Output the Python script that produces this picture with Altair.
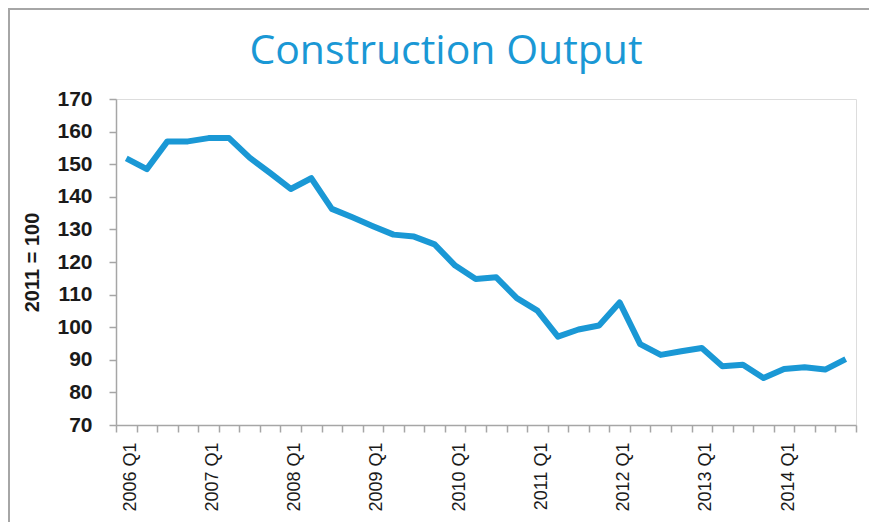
import altair as alt
import pandas as pd

quarters = [f"{y} Q{q}" for y in range(2006, 2015) for q in range(1, 5)]
values = [151.8, 148.5, 157.0, 157.0, 158.0, 158.0, 152.0, 147.3, 142.4, 145.7,
          136.3, 133.7, 131.0, 128.4, 127.8, 125.4, 118.9, 114.8, 115.3, 108.9,
          105.1, 97.1, 99.3, 100.5, 107.6, 94.8, 91.5, 92.6, 93.6, 88.0,
          88.5, 84.4, 87.2, 87.7, 87.0, 90.2]
y_ticks = [70, 80, 90, 100, 110, 120, 130, 140, 150, 160, 170]
title_text = ["Construction Output"]

df = pd.DataFrame({"quarter": quarters, "value": values})

W, H = 740, 326
PL, PT, PR, PB = 108, 91, 13, 97
BLUE = "#1a98d5"
GREY = "#a6a6a6"

line = alt.Chart(df).mark_line(color=BLUE, strokeWidth=6, strokeJoin="round").encode(
    x=alt.X("quarter:O", sort=quarters, bandPosition=0.5,
            scale=alt.Scale(type="band", paddingInner=0, paddingOuter=0),
            axis=alt.Axis(title=None, labelAngle=270, labelAlign="right", labelBaseline="middle",
                          labelExpr="indexof(datum.label, 'Q1') >= 0 ? datum.label : ''",
                          labelFont="Liberation Sans", labelFontSize=18, labelColor="#1a1a1a",
                          labelPadding=10, labelOffset=4, tickBand="extent", tickSize=7,
                          tickColor=GREY, domainColor=GREY, domainWidth=1.5, tickWidth=1.5,
                          labelOverlap=False, grid=False)),
    y=alt.Y("value:Q", scale=alt.Scale(domain=[70, 170], nice=False, zero=False),
            axis=alt.Axis(title="2011 = 100", values=y_ticks, titleFont="Liberation Sans",
                          titleFontSize=20, titleFontWeight="bold", titleColor="#1a1a1a",
                          titlePadding=14, labelFont="Liberation Sans", labelFontSize=21,
                          labelFontWeight="bold", labelColor="#1a1a1a", labelPadding=17,
                          tickSize=7, tickColor=GREY, domainColor=GREY, domainWidth=1.5,
                          tickWidth=1.5, grid=False)),
)

border_data = alt.Data(values=[{"a": 1}])
left_border = alt.Chart(border_data).mark_rule(color=GREY, strokeWidth=2).encode(
    x=alt.value(-PL + 1), y=alt.value(-PT), y2=alt.value(H + PB))
top_border = alt.Chart(border_data).mark_rule(color=GREY, strokeWidth=2).encode(
    x=alt.value(-PL), x2=alt.value(W + PR), y=alt.value(-PT + 1))

title = alt.Chart(pd.DataFrame({"t": title_text})).mark_text(
    font="Open Sans", fontSize=41, color=BLUE, align="center", baseline="alphabetic"
).encode(text="t:N", x=alt.value(446 - 116), y=alt.value(64 - 99))

chart = alt.layer(left_border, top_border, title, line).properties(
    width=W, height=H,
    padding={"left": PL, "top": PT, "right": PR, "bottom": PB},
    autosize=alt.AutoSizeParams(type="none"),
).configure_view(stroke=None).configure(background="white")

chart.save("out.html", embed_options={"renderer": "svg", "actions": False})
